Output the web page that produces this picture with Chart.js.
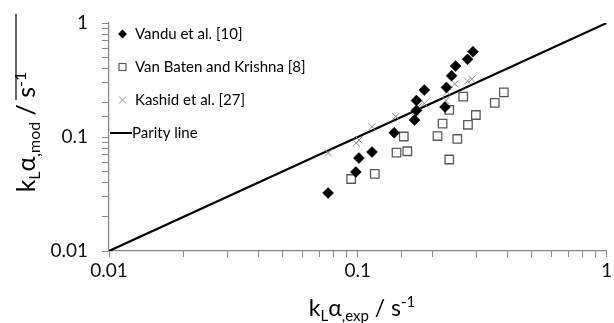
<!DOCTYPE html>
<html>
<head>
<meta charset="utf-8">
<script src="https://cdn.jsdelivr.net/npm/chart.js@4/dist/chart.umd.min.js"></script>
<style>
html,body{margin:0;padding:0;background:#fff;}
#c{display:block;}
</style>
</head>
<body>
<canvas id="c" width="614" height="323"></canvas>
<script>
// ---- data ----
const vanduX = [0.0759, 0.0982, 0.101, 0.114, 0.140, 0.169, 0.172, 0.172, 0.185, 0.224, 0.227, 0.238, 0.247, 0.276, 0.290];
const vanduY = [0.0323, 0.0493, 0.0654, 0.0739, 0.109, 0.141, 0.171, 0.209, 0.258, 0.183, 0.272, 0.345, 0.419, 0.480, 0.560];

const batenX = [0.0940, 0.117, 0.143, 0.158, 0.153, 0.209, 0.219, 0.233, 0.251, 0.277, 0.298, 0.265, 0.233, 0.355, 0.386];
const batenY = [0.0428, 0.0474, 0.0728, 0.0750, 0.101, 0.102, 0.131, 0.173, 0.0961, 0.128, 0.156, 0.226, 0.0635, 0.199, 0.246];

const kashidX = [0.0761, 0.0986, 0.101, 0.114, 0.142, 0.170, 0.175, 0.185, 0.226, 0.228, 0.245, 0.276, 0.287];
const kashidY = [0.0724, 0.0886, 0.0941, 0.123, 0.151, 0.166, 0.184, 0.197, 0.209, 0.250, 0.292, 0.310, 0.321];

const parityX = [0.01, 1];
const parityY = [0.01, 1];

const majorTicks = [0.01, 0.1, 1];
const seriesNames = ['Vandu et al. [10]', 'Van Baten and Krishna [8]', 'Kashid et al. [27]', 'Parity line'];

const pts = (xs, ys) => xs.map((x, i) => ({x: x, y: ys[i]}));

const FONT = 'Lato, "Open Sans", "Liberation Sans", sans-serif';

function fmt(v){
  const m = majorTicks.find(m => Math.abs(Math.log10(v) - Math.log10(m)) < 1e-6);
  return m === undefined ? '' : String(m);
}

// rich text: segments {t, k: 0 normal, -1 sub, 1 sup}
function drawRich(ctx, segs, x, y, rot, main, sub){
  ctx.save();
  ctx.translate(x, y);
  ctx.rotate(rot);
  ctx.textBaseline = 'alphabetic';
  ctx.textAlign = 'left';
  let total = 0;
  const widths = segs.map(s => {
    ctx.font = (s.k === 0 ? main : sub) + 'px ' + FONT;
    const w = ctx.measureText(s.t).width;
    total += w;
    return w;
  });
  let cx = -total / 2;
  segs.forEach((s, i) => {
    ctx.font = (s.k === 0 ? main : sub) + 'px ' + FONT;
    const dy = s.k === -1 ? 5 : (s.k === 1 ? -9 : 0);
    ctx.fillStyle = '#000';
    ctx.fillText(s.t, cx, dy);
    cx += widths[i];
  });
  ctx.restore();
}

const titlesPlugin = {
  id: 'titles',
  afterDraw(chart){
    const ctx = chart.ctx;
    // x title
    drawRich(ctx, [
      {t:'k', k:0}, {t:'L', k:-1}, {t:'α', k:0}, {t:',exp', k:-1}, {t:' / s', k:0}, {t:'-1', k:1}
    ], 362, 316, 0, 23, 15);
    // y title (rotated)
    drawRich(ctx, [
      {t:'k', k:0}, {t:'L', k:-1}, {t:'α', k:0}, {t:',mod', k:-1}, {t:' / s', k:0}, {t:'-1', k:1}
    ], 35, 132, -Math.PI / 2, 25, 16);
    // overline
    ctx.save();
    ctx.strokeStyle = '#000';
    ctx.lineWidth = 1.2;
    ctx.beginPath();
    ctx.moveTo(16, 14);
    ctx.lineTo(16, 100);
    ctx.stroke();
    ctx.restore();

    // legend
    const rows = [34, 67, 100, 133];
    const mx = 122.5, tx = 135;
    ctx.save();
    ctx.fillStyle = '#000';
    ctx.beginPath();
    ctx.moveTo(mx, rows[0] - 4.5); ctx.lineTo(mx + 4.5, rows[0]); ctx.lineTo(mx, rows[0] + 4.5); ctx.lineTo(mx - 4.5, rows[0]); ctx.closePath();
    ctx.fill();
    ctx.strokeStyle = '#595959'; ctx.lineWidth = 1.2;
    ctx.strokeRect(mx - 3.5, rows[1] - 3.5, 7, 7);
    ctx.strokeStyle = '#8c8c8c'; ctx.lineWidth = 1;
    ctx.beginPath();
    ctx.moveTo(mx - 3.5, rows[2] - 3.5); ctx.lineTo(mx + 3.5, rows[2] + 3.5);
    ctx.moveTo(mx + 3.5, rows[2] - 3.5); ctx.lineTo(mx - 3.5, rows[2] + 3.5);
    ctx.stroke();
    ctx.strokeStyle = '#000'; ctx.lineWidth = 2;
    ctx.beginPath(); ctx.moveTo(110, rows[3]); ctx.lineTo(132, rows[3]); ctx.stroke();
    ctx.fillStyle = '#000';
    ctx.font = '15px ' + FONT;
    ctx.textBaseline = 'middle';
    ctx.textAlign = 'left';
    seriesNames.forEach((n, i) => ctx.fillText(n, i === 3 ? 132 : tx, rows[i]));
    ctx.restore();
  }
};

new Chart(document.getElementById('c'), {
  type: 'scatter',
  data: {
    datasets: [
      {
        label: seriesNames[3], type: 'line', data: pts(parityX, parityY),
        borderColor: '#000', borderWidth: 2.2, pointRadius: 0, fill: false, order: 4
      },
      {
        label: seriesNames[2], data: pts(kashidX, kashidY),
        pointStyle: 'crossRot', pointRadius: 5, borderColor: '#8c8c8c', borderWidth: 1,
        backgroundColor: 'transparent', order: 3
      },
      {
        label: seriesNames[1], data: pts(batenX, batenY),
        pointStyle: 'rect', pointRadius: 6, borderColor: '#595959', borderWidth: 1.3,
        backgroundColor: '#fff', order: 2
      },
      {
        label: seriesNames[0], data: pts(vanduX, vanduY),
        pointStyle: 'rectRot', pointRadius: 5.5, borderColor: '#000', borderWidth: 0.5,
        backgroundColor: '#000', order: 1
      }
    ]
  },
  options: {
    responsive: false,
    animation: false,
    devicePixelRatio: 1,
    layout: {padding: {top: 23, right: 5, left: 0, bottom: 0}},
    plugins: {legend: {display: false}, title: {display: false}, tooltip: {enabled: false}},
    scales: {
      x: {
        type: 'logarithmic', min: 0.01, max: 1, position: 'bottom',
        border: {color: '#868686', width: 1.2},
        grid: {display: true, drawOnChartArea: false, drawTicks: true, tickLength: 6, color: '#868686', lineWidth: 1},
        ticks: {autoSkip: false, maxRotation: 0, minRotation: 0, padding: 2, color: '#111', font: {family: FONT, size: 19}, callback: v => fmt(v)},
        afterFit: s => { s.height = 72; s.paddingLeft = 0; s.paddingRight = 0; s.paddingTop = 0; s.paddingBottom = 0; }
      },
      y: {
        type: 'logarithmic', min: 0.01, max: 1, position: 'left',
        border: {color: '#868686', width: 1.2},
        grid: {display: true, drawOnChartArea: false, drawTicks: true, tickLength: 7, color: '#868686', lineWidth: 1},
        ticks: {autoSkip: false, crossAlign: 'near', padding: 14, color: '#111', font: {family: FONT, size: 19}, callback: v => fmt(v)},
        afterFit: s => { s.width = 109; s.paddingLeft = 0; s.paddingRight = 0; s.paddingTop = 0; s.paddingBottom = 0; }
      }
    }
  },
  plugins: [titlesPlugin]
});
</script>
</body>
</html>
